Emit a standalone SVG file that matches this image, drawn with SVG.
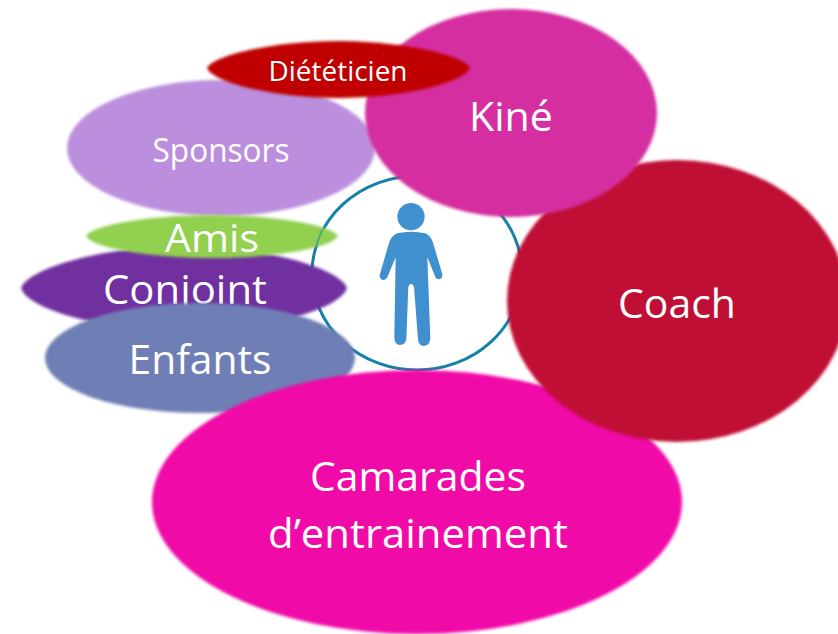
<svg xmlns="http://www.w3.org/2000/svg" width="838" height="634" viewBox="0 0 838 634">
<style>
.b{filter:url(#soft)}
text{font-family:"Open Sans","Noto Sans","Liberation Sans",sans-serif;fill:#fff;text-anchor:middle}
</style>
<defs><filter id="soft" x="-5%" y="-5%" width="110%" height="110%" color-interpolation-filters="sRGB"><feGaussianBlur stdDeviation="1.4"/></filter></defs>
<rect width="838" height="634" fill="#fff"/>
<g id="connectors"/>
<g id="sponsors"><ellipse class="b" cx="221" cy="148" rx="154" ry="68" fill="#bb8fdd"/><text x="221" y="162" font-size="32" textLength="137" lengthAdjust="spacingAndGlyphs">Sponsors</text></g>
<g id="centre">
<ellipse cx="417" cy="273" rx="105" ry="97" fill="#fff" stroke="#1580a8" stroke-width="3"/>
<g fill="#4090d0" transform="translate(300 170) scale(.3333)">
<circle cx="333" cy="140" r="41"/>
<path d="M292 190Q333 180 376 190Q392 198 398 215L427 312Q429 326 416 328Q408 328 405 318L382 262L391 505Q390 527 372 528Q355 527 354 508L342 350Q333 332 325 350L319 508Q316 525 300 525Q284 524 283 503L287 262L262 322Q256 332 246 329Q236 324 240 312L266 222Q272 198 292 190Z"/>
</g>
</g>
<g id="conjoint"><path class="b" d="M21 288C28 268 105 246 184 246C263 246 340 268 347 288C340 310 263 331 184 331C105 331 28 310 21 288Z" fill="#7030a0"/><text x="185" y="304" font-size="41" textLength="164" lengthAdjust="spacingAndGlyphs">Conjoint</text></g>
<g id="amis"><path class="b" d="M86 236C92 225 150 215 212 215C274 215 332 225 338 236C332 248 274 258 212 258C150 258 92 248 86 236Z" fill="#92d050"/><path d="M322 230Q316 244 313.500 258" fill="none" stroke="#1580a8" stroke-width="2" opacity=".5"/><text x="212" y="252" font-size="38" textLength="94" lengthAdjust="spacingAndGlyphs">Amis</text></g>
<g id="enfants"><ellipse class="b" cx="200" cy="358" rx="155" ry="55" fill="#6f7fb5"/><text x="200" y="374" font-size="41" textLength="143" lengthAdjust="spacingAndGlyphs">Enfants</text></g>
<g id="camarades"><ellipse class="b" cx="417" cy="502" rx="265" ry="132" fill="#f00aa8"/><text x="418" y="491" font-size="41" textLength="216" lengthAdjust="spacingAndGlyphs">Camarades</text><text x="418" y="548" font-size="41" textLength="300" lengthAdjust="spacingAndGlyphs">d’entrainement</text></g>
<g id="coach"><ellipse class="b" cx="677" cy="301" rx="170" ry="141" fill="#c00f35"/><text x="677" y="318" font-size="41" textLength="118" lengthAdjust="spacingAndGlyphs">Coach</text></g>
<g id="kine"><ellipse class="b" cx="511" cy="113" rx="146" ry="104" fill="#d42ea0"/><text x="511" y="131" font-size="41" textLength="84" lengthAdjust="spacingAndGlyphs">Kiné</text></g>
<g id="dieteticien"><path class="b" d="M207 68C213 55 275 41 338 41C401 41 464 55 470 68C464 83 401 98 338 98C275 98 213 83 207 68Z" fill="#c00000"/><text x="338" y="81" font-size="28" textLength="139" lengthAdjust="spacingAndGlyphs">Diététicien</text></g>
</svg>
